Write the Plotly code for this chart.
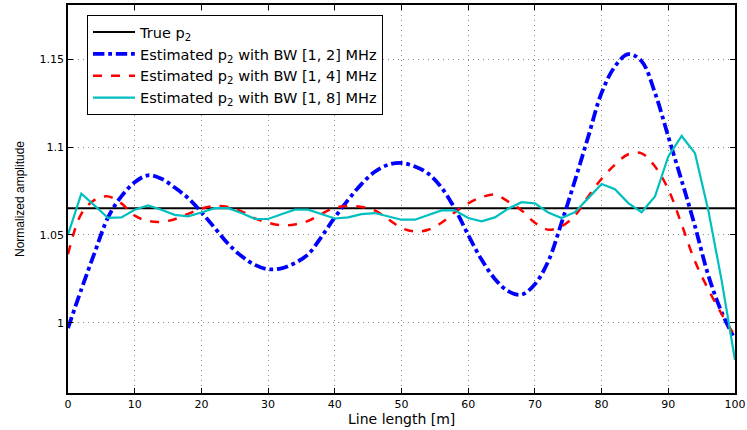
import plotly.graph_objects as go

x_grid = list(range(0, 101, 2))

true_p2 = 1.0653

bw2 = [0.997, 1.019, 1.040, 1.060, 1.072, 1.080, 1.084, 1.082, 1.077, 1.071,
       1.063, 1.054, 1.045, 1.038, 1.033, 1.0305, 1.031, 1.034, 1.039, 1.049,
       1.060, 1.070, 1.079, 1.086, 1.090, 1.091, 1.089, 1.085, 1.077, 1.065,
       1.050, 1.036, 1.025, 1.018, 1.016, 1.022, 1.035, 1.057, 1.081, 1.106,
       1.131, 1.146, 1.153, 1.149, 1.131, 1.106, 1.081, 1.055, 1.027, 1.006,
       0.9905]

bw4 = [1.039, 1.062, 1.070, 1.072, 1.068, 1.061, 1.058, 1.0575, 1.059, 1.062,
       1.065, 1.0665, 1.066, 1.0635, 1.0595, 1.057, 1.0555, 1.056, 1.058, 1.062,
       1.0655, 1.0665, 1.066, 1.064, 1.059, 1.054, 1.052, 1.053, 1.057, 1.063,
       1.068, 1.0715, 1.073, 1.069, 1.064, 1.057, 1.053, 1.055, 1.061, 1.072,
       1.082, 1.090, 1.096, 1.0965, 1.089, 1.076, 1.056, 1.035, 1.019, 1.005,
       0.9924]

bw8 = [1.0502, 1.0735, 1.0667, 1.0597, 1.0600, 1.0644, 1.0668, 1.0644, 1.0615, 1.0606,
       1.0628, 1.0653, 1.0653, 1.0625, 1.0592, 1.0591, 1.0618, 1.0644, 1.0644, 1.0621,
       1.0594, 1.0600, 1.0619, 1.0625, 1.0605, 1.0587, 1.0587, 1.0615, 1.0640, 1.0640,
       1.0597, 1.0578, 1.0600, 1.0650, 1.0687, 1.0680, 1.0628, 1.0597, 1.0630, 1.0710,
       1.0790, 1.0761, 1.0682, 1.0630, 1.0719, 1.0947, 1.1064, 1.0966, 1.0640, 1.0240,
       0.9788]

x_ticks = [0, 10, 20, 30, 40, 50, 60, 70, 80, 90, 100]
y_ticks = [1, 1.05, 1.1, 1.15]
y_tick_text = ["1", "1.05", "1.1", "1.15"]

fig = go.Figure()
fig.add_trace(go.Scatter(x=[0, 100], y=[true_p2, true_p2], mode="lines",
                         line=dict(color="black", width=2),
                         name="True p<sub>2</sub>"))
fig.add_trace(go.Scatter(x=x_grid, y=bw2, mode="lines", line_shape="spline",
                         line=dict(color="#0000FF", width=3.8, dash="dashdot"),
                         name="Estimated p<sub>2</sub> with BW [1, 2] MHz"))
fig.add_trace(go.Scatter(x=x_grid, y=bw4, mode="lines", line_shape="spline",
                         line=dict(color="#FF0000", width=2.5, dash="dash"),
                         name="Estimated p<sub>2</sub> with BW [1, 4] MHz"))
fig.add_trace(go.Scatter(x=x_grid, y=bw8, mode="lines",
                         line=dict(color="#00BFBF", width=2.2),
                         name="Estimated p<sub>2</sub> with BW [1, 8] MHz"))

axis_common = dict(showline=True, linecolor="black", linewidth=1.5, mirror="ticks",
                   ticks="inside", ticklen=5, tickcolor="black",
                   showgrid=True, gridcolor="#888888", griddash="1px,4px", gridwidth=1,
                   zeroline=False, automargin=False,
                   tickfont=dict(family="DejaVu Sans", size=11, color="black"))

fig.update_layout(
    width=747, height=430,
    margin=dict(l=68, r=12, t=5, b=37),
    plot_bgcolor="white", paper_bgcolor="white",
    font=dict(family="DejaVu Sans", color="black"),
    xaxis=dict(range=[0, 100], tickvals=x_ticks, **axis_common),
    yaxis=dict(range=[0.96, 1.181], tickvals=y_ticks, ticktext=y_tick_text,
               title=dict(text="Normalized amplitude",
                          font=dict(family="Liberation Sans", size=12), standoff=12),
               **axis_common),
    legend=dict(x=0.0285, y=0.974, xanchor="left", yanchor="top",
                bgcolor="white", bordercolor="black", borderwidth=1,
                font=dict(size=14.5, family="DejaVu Sans"),
                itemwidth=42, tracegroupgap=0),
    showlegend=True,
    annotations=[dict(text="Line length [m]", xref="paper", yref="paper",
                      x=0.5, y=-0.066, xanchor="center", yanchor="middle",
                      borderpad=0,
                      showarrow=False, font=dict(family="DejaVu Sans", size=14))],
)

fig.write_html("out.html", config={"displayModeBar": False},
               post_script="document.body.style.margin='0px';")
